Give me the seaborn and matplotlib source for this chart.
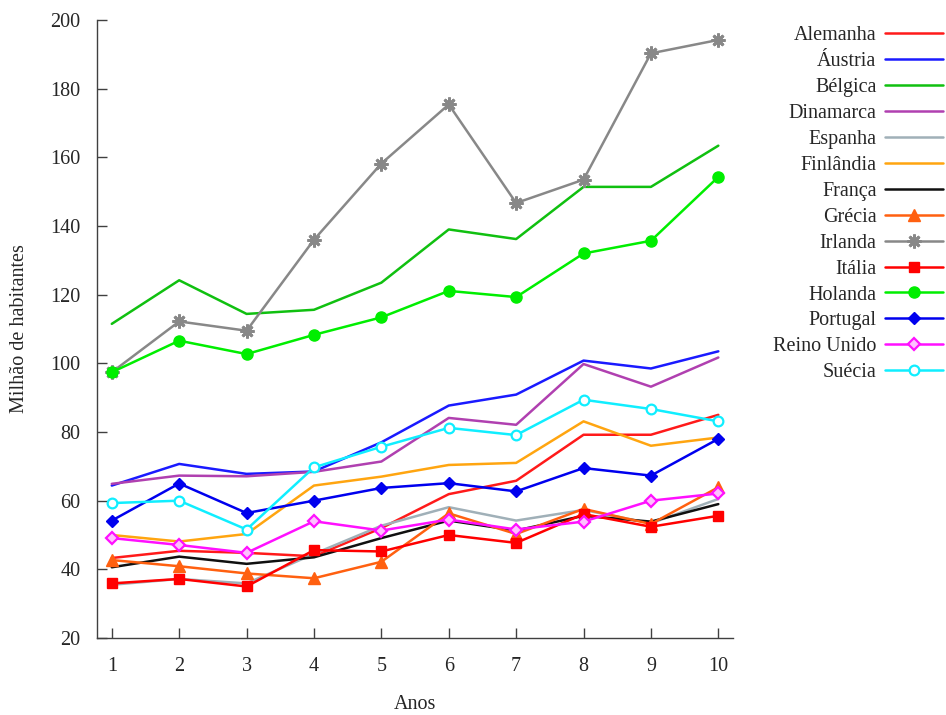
import matplotlib
matplotlib.use("Agg")
import matplotlib.pyplot as plt
import numpy as np
import pandas as pd
import seaborn as sns

anos = [1, 2, 3, 4, 5, 6, 7, 8, 9, 10]

alemanha = [43.3, 45.4, 44.8, 43.8, 52.0, 61.9, 65.8, 79.2, 79.2, 85.0]
austria = [64.4, 70.7, 67.8, 68.5, 77.0, 87.7, 90.9, 100.8, 98.5, 103.5]
belgica = [111.5, 124.2, 114.4, 115.6, 123.5, 139.0, 136.2, 151.4, 151.4, 163.4]
dinamarca = [64.9, 67.3, 67.1, 68.4, 71.4, 84.1, 82.1, 99.8, 93.2, 101.7]
espanha = [35.5, 37.2, 35.9, 44.5, 52.7, 58.1, 54.2, 57.3, 53.4, 60.5]
finlandia = [50.0, 48.1, 50.3, 64.4, 67.0, 70.4, 71.0, 83.1, 76.0, 78.4]
franca = [40.6, 43.7, 41.6, 43.5, 49.1, 54.2, 51.3, 55.6, 53.9, 59.0]
grecia = [42.7, 40.9, 38.8, 37.4, 42.2, 56.3, 50.3, 57.6, 53.2, 63.9]
irlanda = [97.4, 112.2, 109.5, 136.0, 158.2, 175.4, 146.7, 153.5, 190.3, 194.2]
italia = [35.9, 37.2, 35.0, 45.6, 45.2, 50.0, 47.7, 56.1, 52.4, 55.6]
holanda = [97.4, 106.6, 102.7, 108.3, 113.4, 121.1, 119.3, 132.0, 135.7, 154.3]
portugal = [54.2, 65.0, 56.4, 60.0, 63.7, 65.1, 62.7, 69.5, 67.3, 78.0]
reino_unido = [49.1, 47.1, 44.8, 54.0, 51.3, 54.5, 51.6, 53.9, 60.0, 62.1]
suecia = [59.3, 60.0, 51.6, 69.7, 75.7, 81.2, 79.1, 89.4, 86.7, 83.1]

paises = ["Alemanha", "Áustria", "Bélgica", "Dinamarca", "Espanha", "Finlândia",
          "França", "Grécia", "Irlanda", "Itália", "Holanda", "Portugal",
          "Reino Unido", "Suécia"]
valores = [alemanha, austria, belgica, dinamarca, espanha, finlandia, franca,
           grecia, irlanda, italia, holanda, portugal, reino_unido, suecia]

# colour, marker, size, face colour, edge width
estilos = {
    "Alemanha": ("#ff1a1a", "", 0, None, 1.0),
    "Áustria": ("#1a1aff", "", 0, None, 1.0),
    "Bélgica": ("#10c010", "", 0, None, 1.0),
    "Dinamarca": ("#b040b0", "", 0, None, 1.0),
    "Espanha": ("#a0b0b8", "", 0, None, 1.0),
    "Finlândia": ("#ffa510", "", 0, None, 1.0),
    "França": ("#101010", "", 0, None, 1.0),
    "Grécia": ("#ff6010", "^", 8, None, 1.0),
    "Irlanda": ("#888888", (8, 2, 0), 10, None, 2.0),
    "Itália": ("#ff0000", "s", 7.5, None, 1.0),
    "Holanda": ("#00ee00", "o", 8, None, 1.0),
    "Portugal": ("#0000ee", "D", 6.5, None, 1.0),
    "Reino Unido": ("#ff10ff", "D", 6, "#ffc0ff", 1.6),
    "Suécia": ("#10eeff", "o", 7, "white", 1.6),
}

df = pd.DataFrame({
    "Anos": np.tile(anos, len(paises)),
    "valor": np.concatenate(valores),
    "pais": np.repeat(paises, len(anos)),
})

sns.set_style("ticks")
plt.rcParams["font.family"] = ["Liberation Serif", "DejaVu Serif"]

fig = plt.figure(figsize=(9.46, 7.15), dpi=100)
ax = fig.add_axes([0.1025, 0.1077, 0.6725, 0.8643])

for pais in paises:
    cor, marca, tam, face, borda = estilos[pais]
    sub = df[df["pais"] == pais]
    sns.lineplot(data=sub, x="Anos", y="valor", ax=ax, color=cor, label=pais,
                 linewidth=1.8, marker=marca, markersize=tam,
                 markeredgecolor=cor, markeredgewidth=borda,
                 markerfacecolor=face if face else cor)

ax.set_xlim(0.78, 10.22)
ax.set_ylim(20, 200)
ax.set_xticks(anos)
ax.set_yticks(range(20, 201, 20))
ax.tick_params(direction="in", length=7, width=1, color="#404040",
               labelsize=14.5, pad=12)
ax.tick_params(axis="x", pad=14)
for lado in ["top", "right"]:
    ax.spines[lado].set_visible(False)
for lado in ["left", "bottom"]:
    ax.spines[lado].set_color("#404040")
    ax.spines[lado].set_linewidth(1.0)

ax.set_xlabel("Anos", fontsize=14.5)
ax.set_ylabel("Milhão de habitantes", fontsize=14.5)
ax.xaxis.set_label_coords(0.5, -0.092)
ax.yaxis.set_label_coords(-0.107, 0.5)

ax.legend(loc="upper right", bbox_to_anchor=(943 / 946, 1 - 26 / 715),
          bbox_transform=fig.transFigure, frameon=False, markerfirst=False,
          fontsize=14.5, handlelength=2.9, handletextpad=0.4, labelspacing=0.34,
          borderpad=0, borderaxespad=0, numpoints=1)

fig.savefig("out.png", dpi=100)
